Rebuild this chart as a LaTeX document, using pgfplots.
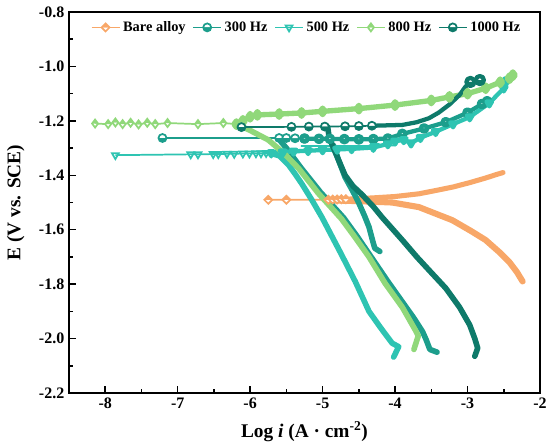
\documentclass[border=0pt]{standalone}
\usepackage{fontspec}
\setmainfont{Liberation Serif}
\usepackage{pgfplots}
\pgfplotsset{compat=1.18}
\usetikzlibrary{plotmarks}
\definecolor{cBare}{RGB}{248,167,104}
\definecolor{cA}{RGB}{28,158,140}
\definecolor{cB}{RGB}{46,196,178}
\definecolor{cC}{RGB}{144,216,122}
\definecolor{cD}{RGB}{14,122,106}
\pgfplotsset{
  flat/.style={line width=1.3pt, mark size=3pt},
  band/.style={line width=4.2pt, line join=round, line cap=round, no marks, forget plot},
  mband/.style={line width=3.2pt, line join=round, line cap=round, forget plot, mark size=2.4pt},
}
\begin{document}
\begin{tikzpicture}
\path[use as bounding box] (-51.75pt,-40.5pt) rectangle (360.75pt,294.75pt);
\begin{axis}[
  at={(0pt,0pt)}, anchor=south west,
  scale only axis, width=353.25pt, height=285.75pt,
  xmin=-8.5, xmax=-2, ymin=-2.2, ymax=-0.8,
  xtick={-8,-7,-6,-5,-4,-3,-2},
  ytick={-2.2,-2.0,-1.8,-1.6,-1.4,-1.2,-1.0,-0.8},
  minor x tick num=1, minor y tick num=1,
  tick pos=left, tick align=inside,
  major tick length=5.5pt, minor tick length=3pt,
  every tick/.append style={black, line width=1.1pt},
  axis line style={line width=1.3pt},
  /pgf/number format/assume math mode=true,
  yticklabel style={/pgf/number format/.cd, fixed, fixed zerofill, precision=1},
  tick label style={font=\fontsize{12}{14}\selectfont\bfseries},
  xlabel={Log \textbf{\textit{i}} (A · cm\textsuperscript{-2})},
  ylabel={E (V vs. SCE)},
  label style={font=\fontsize{14.5}{16}\selectfont\bfseries},
  xlabel style={yshift=-3pt},
  ylabel style={yshift=4pt},
  legend columns=-1,
  legend style={at={(0.505,0.99)}, anchor=north, draw=none, fill=none,
    font=\fontsize{10.8}{12}\selectfont\bfseries,
    /tikz/every even column/.append style={column sep=3pt}},
  legend image code/.code={\draw[mark repeat=2,mark phase=2,#1] plot coordinates {(0pt,0pt) (10.5pt,0pt) (21pt,0pt)};},
]
% ---------------- Bare alloy ----------------
\addplot[flat, color=cBare, mark=halfsquare*, mark options={fill=white, mark color=cBare, draw=cBare}] coordinates {
(-5.75,-1.490) (-5.50,-1.490) (-4.92,-1.490) (-4.86,-1.489) (-4.80,-1.489) (-4.74,-1.488) (-4.68,-1.488)};
\addlegendentry{Bare alloy}
\addplot[band, color=cBare, line width=3.8pt] coordinates {
(-4.68,-1.488) (-4.30,-1.483) (-4.00,-1.478) (-3.67,-1.468) (-3.44,-1.456) (-3.20,-1.443) (-2.97,-1.427) (-2.75,-1.410) (-2.60,-1.397) (-2.51,-1.390)};
\addplot[band, color=cBare, line width=4.6pt] coordinates {
(-4.90,-1.492) (-4.50,-1.495) (-4.04,-1.500) (-3.67,-1.517) (-3.21,-1.565) (-2.95,-1.605) (-2.75,-1.638) (-2.55,-1.685) (-2.42,-1.720) (-2.32,-1.755) (-2.24,-1.790)};
% ---------------- 300 Hz ----------------
\addplot[flat, color=cA, mark=halfcircle*, mark options={fill=white, mark color=cA, draw=cA}] coordinates {
(-7.21,-1.263) (-5.60,-1.263) (-5.50,-1.263) (-5.38,-1.264) (-5.25,-1.265)};
\addlegendentry{300 Hz}
\addplot[mband, color=cA, mark=halfcircle*, mark options={fill=white, mark color=cA, draw=cA}] coordinates {
(-5.25,-1.265) (-5.05,-1.266) (-4.90,-1.266) (-4.70,-1.267) (-4.50,-1.268) (-4.30,-1.267) (-4.10,-1.265) (-3.90,-1.248) (-3.60,-1.228) (-3.30,-1.205) (-3.00,-1.170) (-2.80,-1.138) (-2.73,-1.128)};
\addplot[band, color=cA] coordinates {
(-5.58,-1.275) (-5.50,-1.300) (-5.30,-1.372) (-5.03,-1.462) (-4.71,-1.556) (-4.53,-1.622) (-4.33,-1.700) (-4.10,-1.790) (-3.86,-1.880) (-3.74,-1.925) (-3.62,-1.975) (-3.57,-2.005) (-3.52,-2.040) (-3.42,-2.050)};
\addplot[band, color=cA] coordinates {
(-4.85,-1.290) (-4.78,-1.344) (-4.69,-1.407) (-4.58,-1.460) (-4.50,-1.502) (-4.42,-1.550) (-4.36,-1.590) (-4.31,-1.640) (-4.28,-1.668) (-4.21,-1.680)};
% ---------------- 500 Hz ----------------
\addplot[flat, color=cB, mark=triangle, mark options={rotate=180, fill=white, draw=cB}] coordinates {
(-7.86,-1.326) (-6.82,-1.323) (-6.72,-1.323) (-6.51,-1.322) (-6.44,-1.322) (-6.32,-1.321) (-6.22,-1.321) (-6.10,-1.320) (-6.01,-1.320) (-5.92,-1.319) (-5.85,-1.319) (-5.78,-1.318) (-5.71,-1.318)};
\addlegendentry{500 Hz}
\addplot[band, color=cB] coordinates {
(-5.71,-1.320) (-5.60,-1.328) (-5.47,-1.362) (-5.38,-1.395) (-5.29,-1.430) (-5.15,-1.490) (-5.01,-1.554) (-4.75,-1.686) (-4.55,-1.790) (-4.36,-1.900) (-4.20,-1.960) (-4.04,-2.017) (-3.95,-2.030) (-4.02,-2.068)};
\addplot[mband, color=cB, mark=triangle, mark options={rotate=180, fill=white, draw=cB}] coordinates {
(-5.71,-1.318) (-5.55,-1.315) (-5.40,-1.312) (-5.20,-1.310) (-5.00,-1.307) (-4.80,-1.305) (-4.60,-1.303) (-4.30,-1.298) (-4.10,-1.285) (-4.00,-1.275) (-3.88,-1.270) (-3.78,-1.282) (-3.65,-1.262) (-3.44,-1.240) (-3.20,-1.212) (-2.97,-1.186) (-2.70,-1.135) (-2.50,-1.080) (-2.45,-1.050)};
\addplot[flat, color=cB, forget plot, mark=triangle, mark indices={2}, mark options={rotate=180, fill=white, draw=cB}] coordinates {
(-5.30,-1.292) (-4.28,-1.292) (-4.00,-1.290)};
% ---------------- 800 Hz ----------------
\addplot[flat, color=cC, mark=halfdiamond*, mark options={fill=white, mark color=cC, draw=cC}] coordinates {
(-8.14,-1.210) (-7.96,-1.212) (-7.86,-1.206) (-7.76,-1.212) (-7.65,-1.207) (-7.54,-1.213) (-7.42,-1.207) (-7.31,-1.212) (-7.14,-1.208) (-6.72,-1.212) (-6.37,-1.208) (-6.19,-1.212)};
\addlegendentry{800 Hz}
\addplot[mband, color=cC, line width=4pt, mark=halfdiamond*, mark options={fill=white, mark color=cC, draw=cC}] coordinates {
(-6.19,-1.212) (-6.10,-1.200) (-6.00,-1.185) (-5.90,-1.178) (-5.60,-1.175) (-5.29,-1.171) (-5.00,-1.165) (-4.50,-1.155) (-4.00,-1.142) (-3.50,-1.125) (-3.25,-1.112) (-3.00,-1.100) (-2.75,-1.080) (-2.55,-1.058) (-2.42,-1.043) (-2.375,-1.032)};
\addplot[band, color=cC] coordinates {
(-6.19,-1.212) (-6.00,-1.235) (-5.75,-1.270) (-5.53,-1.320) (-5.33,-1.375) (-5.06,-1.466) (-4.74,-1.560) (-4.56,-1.625) (-4.36,-1.700) (-4.14,-1.796) (-3.90,-1.885) (-3.72,-1.969) (-3.68,-1.990) (-3.74,-2.040)};
% ---------------- 1000 Hz ----------------
\addplot[flat, color=cD, mark=halfcircle*, mark options={fill=white, mark color=cD, draw=cD}] coordinates {
(-6.12,-1.223) (-5.43,-1.222) (-5.19,-1.221) (-4.97,-1.221) (-4.69,-1.220) (-4.50,-1.219) (-4.32,-1.218)};
\addlegendentry{1000 Hz}
\addplot[mband, color=cD, mark=halfcircle*, mark indices={10,11}, mark options={fill=white, mark color=cD, draw=cD}, mark size=3pt] coordinates {
(-4.32,-1.218) (-3.90,-1.215) (-3.70,-1.205) (-3.53,-1.190) (-3.40,-1.170) (-3.25,-1.140) (-3.11,-1.105) (-3.03,-1.075) (-2.97,-1.060) (-2.96,-1.057) (-2.83,-1.050)};
\addplot[band, color=cD] coordinates {
(-4.93,-1.222) (-4.91,-1.260) (-4.85,-1.300) (-4.78,-1.344) (-4.69,-1.400) (-4.58,-1.440) (-4.46,-1.470) (-4.30,-1.515) (-4.18,-1.554) (-3.90,-1.638) (-3.70,-1.700) (-3.53,-1.749) (-3.30,-1.815) (-3.11,-1.885) (-2.97,-1.950) (-2.90,-2.000) (-2.86,-2.035) (-2.90,-2.065)};
\end{axis}
\end{tikzpicture}
\end{document}
